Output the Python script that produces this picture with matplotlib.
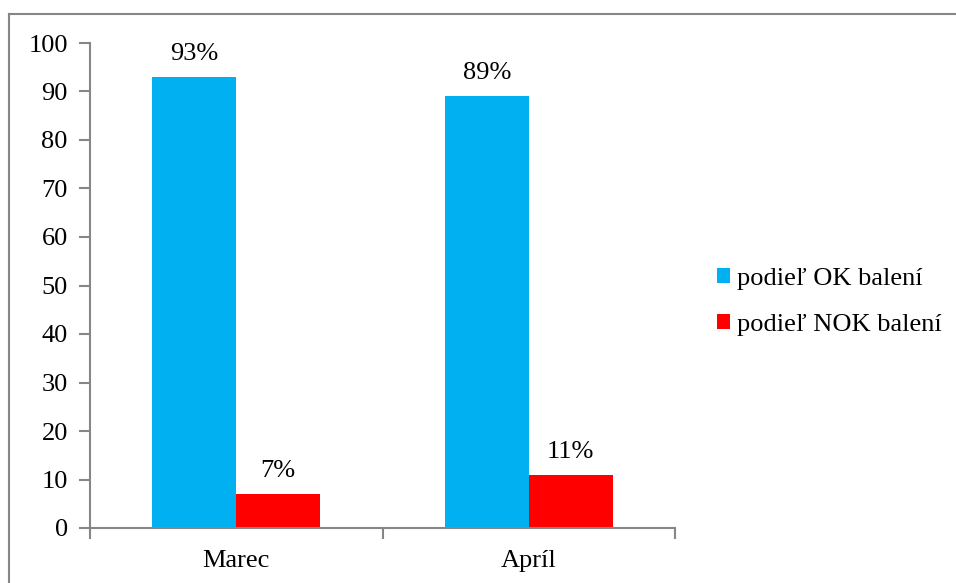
import numpy as np
import matplotlib
matplotlib.use("Agg")
import matplotlib.pyplot as plt
from matplotlib.lines import Line2D

months = ["Marec", "Apríl"]
ok_share = [93, 89]
nok_share = [7, 11]
series_names = ["podieľ OK balení", "podieľ NOK balení"]

blue = "#00B0F0"
red = "#FF0000"
axis_gray = "#868686"

plt.rcParams["font.family"] = ["Liberation Serif", "DejaVu Serif"]
plt.rcParams["font.size"] = 19

fig = plt.figure(figsize=(9.56, 5.83), dpi=100)
ax = fig.add_axes([90 / 956, 1 - 528 / 583, (675 - 90) / 956, (528 - 43) / 583])

x = np.arange(len(months))
w = 0.287
b1 = ax.bar(x - w / 2, ok_share, w, color=blue, label=series_names[0])
b2 = ax.bar(x + w / 2, nok_share, w, color=red, label=series_names[1])

for bars, vals in ((b1, ok_share), (b2, nok_share)):
    for rect, v in zip(bars, vals):
        ax.annotate(f"{v}%", (rect.get_x() + rect.get_width() / 2, v),
                    xytext=(0, 12), textcoords="offset pixels",
                    ha="center", va="bottom", fontsize=19)

ax.set_xlim(-0.5, 1.5)
ax.set_ylim(0, 100)
ax.set_yticks(range(0, 101, 10))

# category labels in the middle, divider ticks between categories
ax.set_xticks(x)
ax.set_xticklabels(months)
ax.tick_params(axis="x", length=0, pad=16)
ax.set_xticks([-0.5, 0.5, 1.5], minor=True)
ax.tick_params(axis="x", which="minor", length=8, width=1.5, color=axis_gray, direction="out")
ax.tick_params(axis="y", length=8, width=1.5, color=axis_gray, direction="out", pad=8)

for s in ("top", "right"):
    ax.spines[s].set_visible(False)
for s in ("left", "bottom"):
    ax.spines[s].set_color(axis_gray)
    ax.spines[s].set_linewidth(1.5)

leg = ax.legend(loc="center left", bbox_to_anchor=(704 / 956, 1 - 302 / 583),
                bbox_transform=fig.transFigure, frameon=False,
                handlelength=0.5, handleheight=0.5, handletextpad=0.25,
                labelspacing=0.9, borderpad=0, fontsize=19)

# outer chart frame (open on the right and bottom)
fig.add_artist(Line2D([9 / 956, 9 / 956], [0, 1 - 14 / 583], transform=fig.transFigure,
                      color=axis_gray, lw=1.5))
fig.add_artist(Line2D([9 / 956, 1], [1 - 14 / 583, 1 - 14 / 583], transform=fig.transFigure,
                      color=axis_gray, lw=1.5))

fig.savefig("out.png", dpi=100)
